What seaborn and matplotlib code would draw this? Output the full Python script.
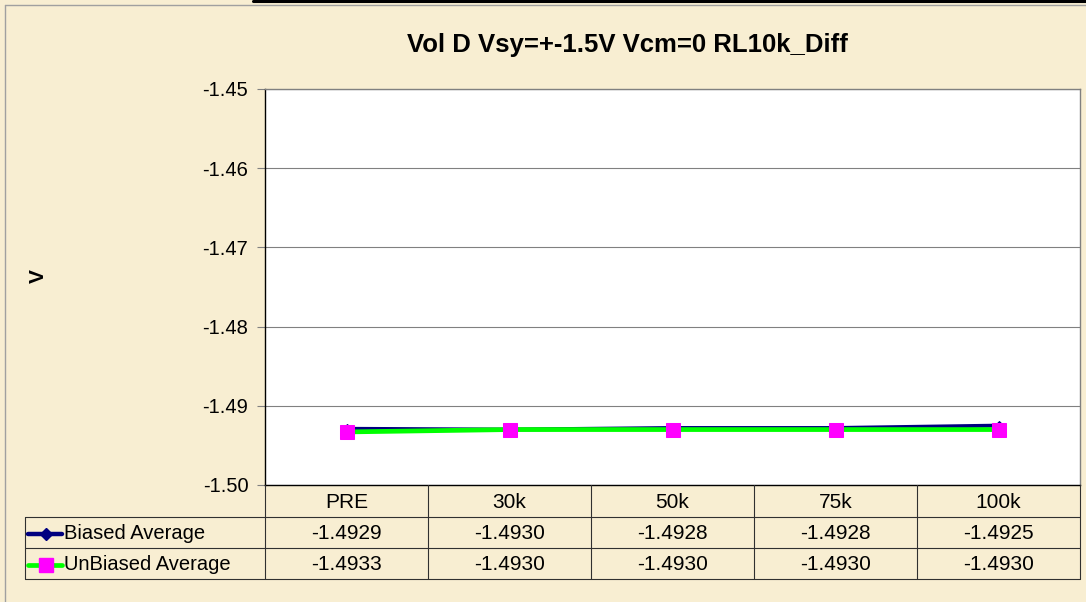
import matplotlib
matplotlib.use("Agg")
import matplotlib.pyplot as plt
from matplotlib.lines import Line2D
import seaborn as sns
import pandas as pd

# ---- data ----
categories = ["PRE", "30k", "50k", "75k", "100k"]
biased_average = [-1.4929, -1.4930, -1.4928, -1.4928, -1.4925]
unbiased_average = [-1.4933, -1.4930, -1.4930, -1.4930, -1.4930]
series_names = ["Biased Average", "UnBiased Average"]
y_ticks = [-1.50, -1.49, -1.48, -1.47, -1.46, -1.45]
title = "Vol D Vsy=+-1.5V Vcm=0 RL10k_Diff"
y_label = "V"

sns.set_style("white")
plt.rcParams["font.family"] = ["Liberation Sans", "DejaVu Sans"]
plt.rcParams["text.color"] = "black"
plt.rcParams["ytick.labelcolor"] = "black"
plt.rcParams["axes.labelcolor"] = "black"

W, H = 1086, 602
BG = "#F8EED2"
fig = plt.figure(figsize=(W / 100, H / 100), dpi=100, facecolor=BG)


def fx(px):
    return px / W


def fy(py):
    return 1 - py / H


# plot area in pixels
L, R, T, B = 265, 1080, 89, 485
ax = fig.add_axes([fx(L), fy(B), fx(R) - fx(L), fy(T) - fy(B)])
ax.set_facecolor("white")

df = pd.DataFrame({"cat": categories, "b": biased_average, "u": unbiased_average})

sns.lineplot(data=df, x="cat", y="b", ax=ax, color="#000080", lw=2.8,
             marker="D", markersize=5.5, markerfacecolor="#000080",
             markeredgecolor="#000080", sort=False, zorder=3)
sns.lineplot(data=df, x="cat", y="u", ax=ax, color="#00FF00", lw=3.4,
             marker="s", markersize=9.5, markerfacecolor="#FF00FF",
             markeredgecolor="#FF00FF", sort=False, zorder=4)

ax.set_xlim(-0.5, len(categories) - 0.5)
ax.set_ylim(-1.50, -1.45)
ax.set_yticks(y_ticks)
ax.set_yticklabels([f"{v:.2f}" for v in y_ticks], fontsize=14.5, color="black")
ax.set_xticks([])
ax.set_xlabel("")
ax.set_ylabel("")
ax.grid(axis="y", color="#808080", lw=0.8)
ax.tick_params(axis="y", direction="out", length=6, width=0.8, color="#808080",
               pad=6, left=True, labelcolor="black")
for s in ["top", "right"]:
    ax.spines[s].set_color("#808080")
    ax.spines[s].set_linewidth(1)
for s in ["left", "bottom"]:
    ax.spines[s].set_color("black")
    ax.spines[s].set_linewidth(1)

# title and y label
fig.text(fx(627), fy(45), title, ha="center", va="center", fontsize=18.5,
         fontweight="bold", color="black")
fig.text(fx(38), fy(276), y_label, ha="center", va="center", fontsize=15,
         fontweight="bold", rotation=90, color="black")

# ---- data table ----
col_edges = [L + i * (R - L) / len(categories) for i in range(len(categories) + 1)]
row_edges = [485, 517, 548, 579]
lc = "#303030"
lw = 0.8
for yy in row_edges[1:]:
    fig.add_artist(Line2D([fx(25), fx(R)], [fy(yy), fy(yy)], color=lc, lw=lw))
for xx in col_edges:
    fig.add_artist(Line2D([fx(xx), fx(xx)], [fy(485), fy(579)], color=lc, lw=lw))
fig.add_artist(Line2D([fx(25), fx(25)], [fy(517), fy(579)], color=lc, lw=lw))

centers = [(col_edges[i] + col_edges[i + 1]) / 2 for i in range(len(categories))]
rc = [(row_edges[i] + row_edges[i + 1]) / 2 + 1 for i in range(3)]
for c, cx in zip(categories, centers):
    fig.text(fx(cx), fy(rc[0]), c, ha="center", va="center", fontsize=15)
for vals, yy in [(biased_average, rc[1]), (unbiased_average, rc[2])]:
    for v, cx in zip(vals, centers):
        fig.text(fx(cx), fy(yy), f"{v:.4f}", ha="center", va="center", fontsize=15)

# legend keys
fig.add_artist(Line2D([fx(28), fx(62)], [fy(rc[1]), fy(rc[1])], color="#000080",
                      lw=3.2, zorder=5))
fig.add_artist(Line2D([fx(46)], [fy(rc[1])], marker="D", markersize=6.5,
                      color="#000080", zorder=6))
fig.add_artist(Line2D([fx(28), fx(62)], [fy(rc[2]), fy(rc[2])], color="#00FF00",
                      lw=3.4, zorder=5))
fig.add_artist(Line2D([fx(46)], [fy(rc[2])], marker="s", markersize=9.5,
                      color="#FF00FF", zorder=6))
fig.text(fx(64), fy(rc[1]), series_names[0], ha="left", va="center", fontsize=14.5)
fig.text(fx(64), fy(rc[2]), series_names[1], ha="left", va="center", fontsize=14.5)

# chart border and top line
fig.add_artist(Line2D([fx(5), fx(5)], [fy(5), 0], color="#A0A0A0", lw=1))
fig.add_artist(Line2D([fx(5), 1], [fy(5), fy(5)], color="#A0A0A0", lw=1))
fig.add_artist(Line2D([fx(253), 1], [fy(1), fy(1)], color="black", lw=2.2))

fig.savefig("out.png", dpi=100, facecolor=BG)
